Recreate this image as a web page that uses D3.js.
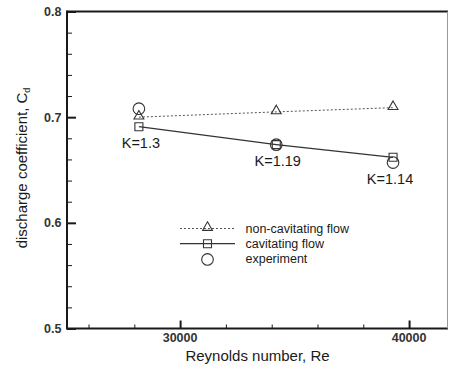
<!DOCTYPE html>
<html>
<head>
<meta charset="utf-8">
<script src="https://cdn.jsdelivr.net/npm/d3@7"></script>
<style>
  body { margin: 0; background: #fff; }
  svg { display: block; font-family: "Liberation Sans", Arial, sans-serif; }
</style>
</head>
<body>
<script>
// chart data
const reynolds = [28200, 34200, 39300];
const nonCavitating = [0.700, 0.705, 0.709];
const cavitating = [0.691, 0.674, 0.662];
const experiment = [0.708, 0.674, 0.657];
const kLabels = ['K=1.3', 'K=1.19', 'K=1.14'];
const xTickValues = [30000, 40000];
const yTickValues = [0.5, 0.6, 0.7, 0.8];
const legendLabels = ['non-cavitating flow', 'cavitating flow', 'experiment'];

const width = 449, height = 369;
const margin = { left: 67, right: 1, top: 11.5, bottom: 40.5 };

const svg = d3.select('body').append('svg')
    .attr('width', width)
    .attr('height', height);

const x = d3.scaleLinear()
    .domain([25060, 41700])
    .range([margin.left, width - margin.right]);

const y = d3.scaleLinear()
    .domain([0.5, 0.8])
    .range([height - margin.bottom, margin.top]);

const ink = '#1a1a1a';

// y ticks, pointing into the plot
const yMinor = d3.range(0.52, 0.8, 0.02).filter(v => Math.abs(v * 10 - Math.round(v * 10)) > 1e-6);
svg.append('g')
    .attr('transform', `translate(${margin.left},0)`)
    .call(d3.axisRight(y).tickValues(yMinor).tickSize(5).tickFormat(''))
    .call(g => g.select('.domain').remove())
    .call(g => g.selectAll('line').attr('stroke', ink).attr('stroke-width', 1));

svg.append('g')
    .attr('transform', `translate(${margin.left},0)`)
    .call(d3.axisRight(y).tickValues(yTickValues).tickSize(9).tickFormat(''))
    .call(g => g.select('.domain').remove())
    .call(g => g.selectAll('line').attr('stroke', ink).attr('stroke-width', 2));

svg.append('g').selectAll('text')
    .data(yTickValues)
    .join('text')
    .attr('x', margin.left - 5.5)
    .attr('y', d => y(d) + 4.5)
    .attr('text-anchor', 'end')
    .attr('font-size', 12.5)
    .attr('font-weight', 'bold')
    .attr('fill', '#333')
    .text(d => d3.format('.1f')(d));

// x ticks
const xMinor = d3.range(26000, 41000, 2000).filter(v => v % 10000 !== 0);
svg.append('g')
    .attr('transform', `translate(0,${y(0.5)})`)
    .call(d3.axisTop(x).tickValues(xMinor).tickSize(4).tickFormat(''))
    .call(g => g.select('.domain').remove())
    .call(g => g.selectAll('line').attr('stroke', ink).attr('stroke-width', 1));

svg.append('g')
    .attr('transform', `translate(0,${y(0.5)})`)
    .call(d3.axisTop(x).tickValues(xTickValues).tickSize(8).tickFormat(''))
    .call(g => g.select('.domain').remove())
    .call(g => g.selectAll('line').attr('stroke', ink).attr('stroke-width', 2));

svg.append('g').selectAll('text')
    .data(xTickValues)
    .join('text')
    .attr('x', d => x(d))
    .attr('y', y(0.5) + 13.5)
    .attr('text-anchor', 'middle')
    .attr('font-size', 12.5)
    .attr('font-weight', 'bold')
    .attr('fill', '#333')
    .text(d => d);

// frame
const [x0, x1] = x.range();
const [yb, yt] = y.range();
svg.append('line').attr('x1', x0).attr('x2', x1).attr('y1', yt).attr('y2', yt)
    .attr('stroke', ink).attr('stroke-width', 2);
svg.append('line').attr('x1', x0).attr('x2', x1).attr('y1', yb).attr('y2', yb)
    .attr('stroke', ink).attr('stroke-width', 2);
svg.append('line').attr('x1', x0).attr('x2', x0).attr('y1', yt - 1).attr('y2', yb + 1)
    .attr('stroke', ink).attr('stroke-width', 2);
svg.append('line').attr('x1', x1 - 0.5).attr('x2', x1 - 0.5).attr('y1', yt).attr('y2', yb)
    .attr('stroke', '#999').attr('stroke-width', 1);

// axis titles
svg.append('text')
    .attr('x', (x0 + x1) / 2)
    .attr('y', 361)
    .attr('text-anchor', 'middle')
    .attr('font-size', 15)
    .attr('fill', ink)
    .text('Reynolds number, Re');

const ylab = svg.append('text')
    .attr('transform', 'translate(26.5,168) rotate(-90)')
    .attr('text-anchor', 'middle')
    .attr('font-size', 15)
    .attr('fill', ink);
ylab.append('tspan').text('discharge coefficient, C');
ylab.append('tspan').attr('font-size', 9).attr('dy', 3).text('d');

// series
const line = vals => d3.line()
    .x((d, i) => x(reynolds[i]))
    .y(d => y(d))(vals);

svg.append('path')
    .attr('d', line(nonCavitating))
    .attr('fill', 'none')
    .attr('stroke', '#555')
    .attr('stroke-width', 1)
    .attr('stroke-dasharray', '2,2');

svg.append('path')
    .attr('d', line(cavitating))
    .attr('fill', 'none')
    .attr('stroke', '#333')
    .attr('stroke-width', 1.2);

const tri = d3.symbol().type(d3.symbolTriangle).size(42);
const sq = d3.symbol().type(d3.symbolSquare).size(64);

function drawTriangle(g, cx, cy) {
    g.append('path').attr('d', tri())
        .attr('transform', `translate(${cx},${cy})`)
        .attr('fill', 'none').attr('stroke', '#333').attr('stroke-width', 1.1);
}
function drawSquare(g, cx, cy) {
    g.append('path').attr('d', sq())
        .attr('transform', `translate(${cx},${cy})`)
        .attr('fill', 'none').attr('stroke', '#333').attr('stroke-width', 1.1);
}
function drawCircle(g, cx, cy) {
    g.append('circle').attr('cx', cx).attr('cy', cy).attr('r', 5.8)
        .attr('fill', 'none').attr('stroke', '#333').attr('stroke-width', 1.1);
}

const marks = svg.append('g');
reynolds.forEach((re, i) => {
    drawTriangle(marks, x(re), y(nonCavitating[i]) - 1);
    drawSquare(marks, x(re), y(cavitating[i]));
    drawCircle(marks, x(re), y(experiment[i]));
});

// K annotations below each point
svg.append('g').selectAll('text')
    .data(kLabels)
    .join('text')
    .attr('x', (d, i) => x(reynolds[i]) + [2, 1.5, -3][i])
    .attr('y', (d, i) => y(Math.min(cavitating[i], experiment[i])) + 21)
    .attr('text-anchor', 'middle')
    .attr('font-size', 14.5)
    .attr('fill', ink)
    .text(d => d);

// legend
const lg = svg.append('g').attr('transform', 'translate(180,228.5)');
const rowGap = 15.2;
lg.append('line').attr('x1', 0).attr('x2', 55).attr('y1', 0).attr('y2', 0)
    .attr('stroke', '#555').attr('stroke-width', 1).attr('stroke-dasharray', '2,2');
drawTriangle(lg, 27.5, -1);
lg.append('line').attr('x1', 0).attr('x2', 55).attr('y1', rowGap).attr('y2', rowGap)
    .attr('stroke', '#333').attr('stroke-width', 1.2);
drawSquare(lg, 27.5, rowGap);
drawCircle(lg, 27.5, rowGap * 2 + 0.5);

lg.selectAll('text.lab')
    .data(legendLabels)
    .join('text')
    .attr('class', 'lab')
    .attr('x', 65.5)
    .attr('y', (d, i) => i * rowGap + 4.5)
    .attr('font-size', 12.5)
    .attr('fill', ink)
    .text(d => d);
</script>
</body>
</html>
